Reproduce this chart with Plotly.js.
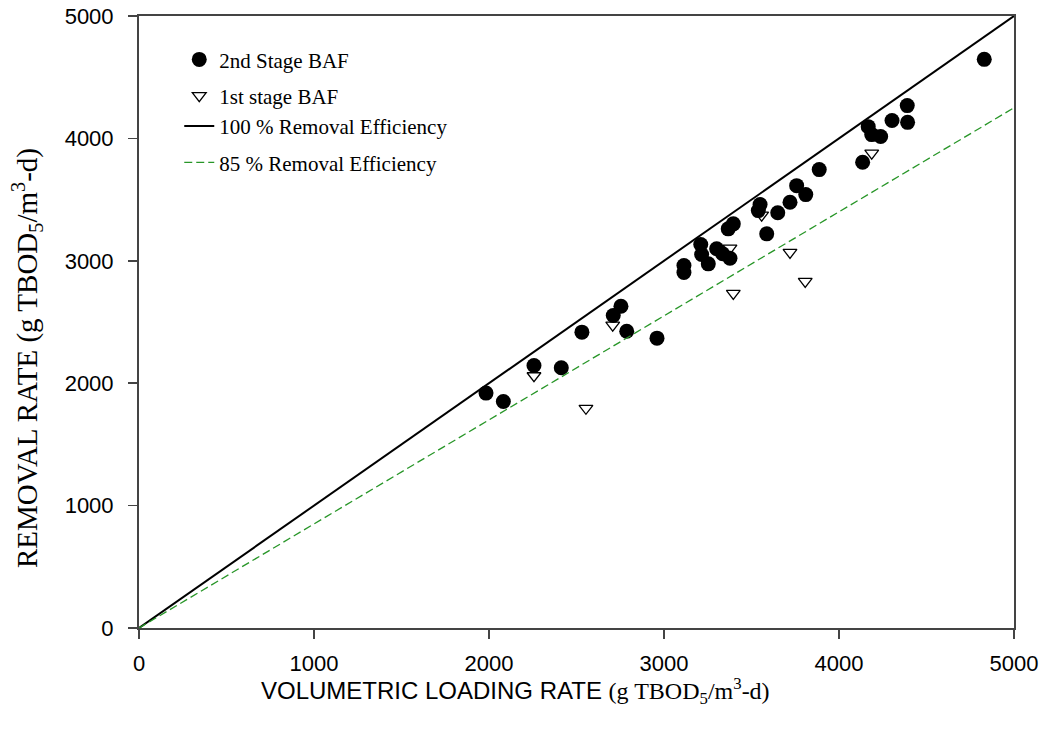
<!DOCTYPE html>
<html>
<head>
<meta charset="utf-8">
<script src="https://cdn.plot.ly/plotly-3.0.1.min.js"></script>
<style>html,body{margin:0;padding:0;background:#fff;}#chart{width:1045px;height:731px;}</style>
</head>
<body>
<div id="chart"></div>
<script>
// 2nd stage BAF (filled circles)
const stage2X = [1983, 2082, 2257, 2413, 2531, 2710, 2754, 2787, 2960, 3114, 3114, 3210, 3215, 3253, 3301, 3335, 3377, 3367, 3396, 3549, 3539, 3587, 3650, 3720, 3758, 3810, 3887, 4135, 4167, 4187, 4238, 4303, 4390, 4392, 4830];
const stage2Y = [1919, 1851, 2145, 2126, 2417, 2553, 2629, 2425, 2368, 2961, 2904, 3133, 3051, 2975, 3098, 3057, 3021, 3261, 3302, 3459, 3410, 3220, 3392, 3478, 3614, 3541, 3745, 3805, 4096, 4031, 4015, 4146, 4268, 4131, 4646];
// 1st stage BAF (open triangles)
const stage1X = [2257, 2554, 2707, 3377, 3396, 3558, 3720, 3807, 4187];
const stage1Y = [2061, 1795, 2475, 3104, 2734, 3373, 3069, 2832, 3880];
// Reference lines
const lineX = [0, 5000];
const eff100Y = [0, 5000];
const eff85Y = [0, 4250];
// Ticks and titles
const tickValues = [0, 1000, 2000, 3000, 4000, 5000];
const xTitle = 'VOLUMETRIC LOADING RATE <span style="font-family:Liberation Serif">(g TBOD<sub>5</sub>/m<sup>3</sup>-d)</span>';
const yTitle = 'REMOVAL RATE (g TBOD<sub>5</sub>/m<sup>3</sup>-d)';

const serif = 'Liberation Serif, Times New Roman, serif';
const sans = 'Liberation Sans, Arial, sans-serif';

const data = [
  {x: stage2X, y: stage2Y, type: 'scatter', mode: 'markers', name: '2nd Stage BAF', legendgroup: 'a',
   marker: {symbol: 'circle', size: 15, color: '#000'}},
  {x: stage1X, y: stage1Y, type: 'scatter', mode: 'markers', name: '1st stage BAF', legendgroup: 'b',
   marker: {symbol: 'triangle-down-open', size: 12, color: '#000', line: {width: 1.3, color: '#000'}}},
  {x: lineX, y: eff100Y, type: 'scatter', mode: 'lines', name: '100 % Removal Efficiency', legendgroup: 'b',
   line: {color: '#000', width: 2}},
  {x: lineX, y: eff85Y, type: 'scatter', mode: 'lines', name: '85 % Removal Efficiency', legendgroup: 'd',
   yaxis: 'y2', line: {color: 'rgb(40,150,40)', width: 1.3, dash: '8px,4px'}}
];

const axisCommon = {
  range: [0, 5000], tickvals: tickValues,
  showgrid: false, zeroline: false, showline: true, linecolor: '#444', linewidth: 2,
  mirror: true, ticks: 'outside', ticklen: 9, tickwidth: 1.5, tickcolor: '#444',
  tickfont: {family: sans, size: 22, color: '#000'}
};

const layout = {
  width: 1045, height: 731,
  margin: {l: 139, r: 31, t: 16, b: 103},
  paper_bgcolor: '#fff', plot_bgcolor: '#fff',
  showlegend: true,
  legend: {x: 0.046, y: 0.962, xanchor: 'left', yanchor: 'top', bgcolor: 'rgba(0,0,0,0)',
           font: {family: serif, size: 21, color: '#000'}, tracegroupgap: 6, traceorder: 'grouped'},
  xaxis: Object.assign({}, axisCommon, {ticklabelstandoff: 6}),
  yaxis: Object.assign({}, axisCommon, {showticklabels: false}),
  yaxis2: {
    overlaying: 'y', side: 'left', range: [0, 5000], tickvals: tickValues,
    showgrid: false, zeroline: false, showline: false,
    ticks: 'outside', ticklen: 20, tickcolor: 'rgba(0,0,0,0)',
    tickfont: {family: sans, size: 22, color: '#000'}
  },
  annotations: [
    {text: xTitle, xref: 'paper', yref: 'paper', x: 0.43, y: -0.103, xanchor: 'center', yanchor: 'middle',
     showarrow: false, font: {family: sans, size: 24, color: '#000'}},
    {text: yTitle, xref: 'paper', yref: 'paper', x: -0.128, y: 0.441, xanchor: 'center', yanchor: 'middle',
     textangle: -90, showarrow: false, font: {family: serif, size: 29, color: '#000'}}
  ]
};

Plotly.newPlot('chart', data, layout, {staticPlot: true});
</script>
</body>
</html>
